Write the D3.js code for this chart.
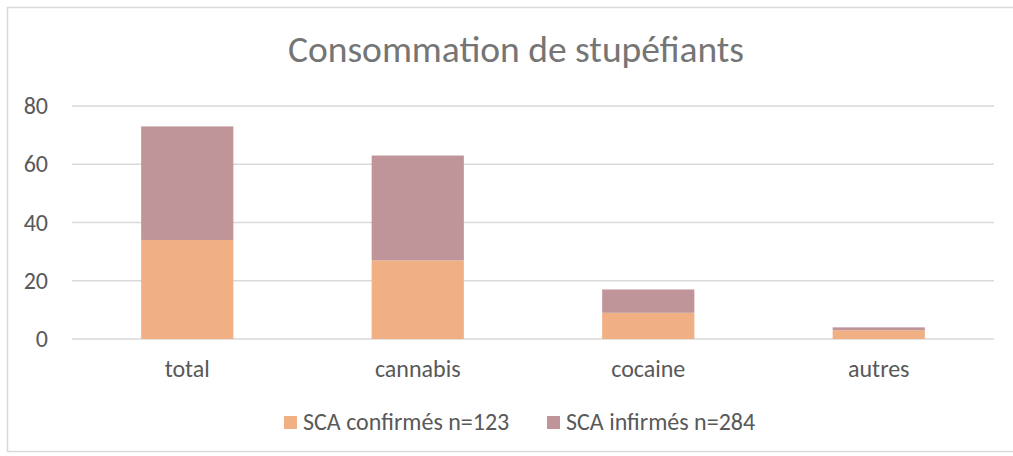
<!DOCTYPE html>
<html>
<head>
<meta charset="utf-8">
<script src="https://cdn.jsdelivr.net/npm/d3@7"></script>
<style>
  html, body { margin: 0; padding: 0; background: #fff; }
  svg { display: block; font-family: Calibri, Carlito, "Noto Sans", sans-serif; }
  .grid line { stroke: #d9d9d9; stroke-width: 1.5; }
  .tick-label, .cat-label, .legend-label { fill: #595959; }
</style>
</head>
<body>
<svg id="chart" width="1013" height="456"></svg>
<script>
// Data
const categories = ['total', 'cannabis', 'cocaine', 'autres'];
const confirmes = [34, 27, 9, 3];
const infirmes = [39, 36, 8, 1];
const seriesNames = ['SCA confirmés n=123', 'SCA infirmés n=284'];
const yTicks = [0, 20, 40, 60, 80];
const title = 'Consommation de stupéfiants';

(function() {
    'use strict';

    const colors = ['#f0b084', '#c0959a'];
    const W = 1013, H = 456;
    const margin = { top: 106, right: 19, bottom: 117, left: 72 };
    const width = W - margin.left - margin.right;
    const height = H - margin.top - margin.bottom;

    const svg = d3.select('#chart');

    // Chart frame
    svg.append('rect')
        .attr('x', 7.5).attr('y', 7.5)
        .attr('width', W + 10).attr('height', H - 12)
        .attr('fill', 'none')
        .attr('stroke', '#d9d9d9')
        .attr('stroke-width', 1.5);

    // Title
    svg.append('text')
        .attr('x', margin.left + width / 2 - 17)
        .attr('y', 62)
        .attr('text-anchor', 'middle')
        .style('font-size', '37.5px')
        .style('fill', '#757575')
        .text(title);

    const g = svg.append('g')
        .attr('transform', `translate(${margin.left},${margin.top})`);

    const x = d3.scaleBand()
        .domain(categories)
        .range([0, width])
        .padding(0);

    const y = d3.scaleLinear()
        .domain([0, 80])
        .range([height, 0]);

    // Gridlines
    g.append('g')
        .attr('class', 'grid')
        .selectAll('line')
        .data(yTicks)
        .enter()
        .append('line')
        .attr('x1', 0)
        .attr('x2', width)
        .attr('y1', d => y(d))
        .attr('y2', d => y(d));

    // Y tick labels
    g.selectAll('.tick-label')
        .data(yTicks)
        .enter()
        .append('text')
        .attr('class', 'tick-label')
        .attr('x', -24)
        .attr('y', d => y(d) + 8)
        .attr('text-anchor', 'end')
        .style('font-size', '24px')
        .text(d => d);

    // Stacked bars
    const stackData = categories.map((c, i) => ({ cat: c, a: confirmes[i], b: infirmes[i] }));
    const stacked = d3.stack().keys(['a', 'b'])(stackData);

    const barW = x.bandwidth() * 0.4;
    const barOff = x.bandwidth() * 0.3;

    g.selectAll('.series')
        .data(stacked)
        .enter()
        .append('g')
        .attr('class', 'series')
        .attr('fill', (d, i) => colors[i])
        .selectAll('rect')
        .data(d => d)
        .enter()
        .append('rect')
        .attr('x', d => x(d.data.cat) + barOff)
        .attr('width', barW)
        .attr('y', d => y(d[1]))
        .attr('height', d => y(d[0]) - y(d[1]));

    // Category labels
    g.selectAll('.cat-label')
        .data(categories)
        .enter()
        .append('text')
        .attr('class', 'cat-label')
        .attr('x', d => x(d) + x.bandwidth() / 2)
        .attr('y', height + 38)
        .attr('text-anchor', 'middle')
        .style('font-size', '24px')
        .text(d => d);

    // Legend
    const legendX = [284, 547];
    const legend = svg.append('g');
    seriesNames.forEach((name, i) => {
        legend.append('rect')
            .attr('x', legendX[i])
            .attr('y', 416)
            .attr('width', 13)
            .attr('height', 13)
            .attr('fill', colors[i]);
        legend.append('text')
            .attr('class', 'legend-label')
            .attr('x', legendX[i] + 19)
            .attr('y', 430)
            .style('font-size', '24px')
            .text(name);
    });
})();
</script>
</body>
</html>
